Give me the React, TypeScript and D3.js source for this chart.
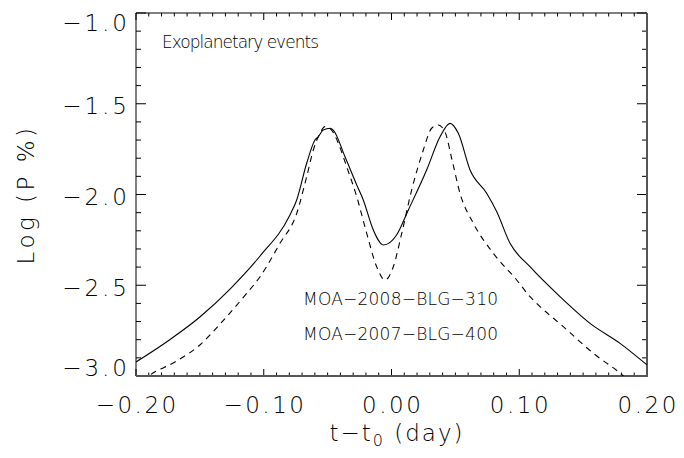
import React from 'react';
import * as d3 from 'd3';

const W = 684;
const H = 458;

// MOA-2008-BLG-310 (solid)
const solidT = [-0.2, -0.175, -0.15, -0.1264, -0.1029, -0.0795, -0.0742, -0.0664, -0.0599, -0.0573, -0.0534, -0.0481, -0.0456, -0.0364, -0.0272, -0.0221, -0.0142, -0.0064, 0.004, 0.0132, 0.0275, 0.038, 0.0458, 0.0523, 0.0615, 0.0745, 0.0824, 0.0928, 0.1084, 0.1319, 0.1554, 0.1789, 0.2];
const solidV = [-2.923, -2.807, -2.675, -2.521, -2.339, -2.113, -2.03, -1.828, -1.7, -1.682, -1.645, -1.635, -1.645, -1.792, -1.948, -2.03, -2.196, -2.278, -2.223, -2.085, -1.865, -1.682, -1.608, -1.663, -1.865, -1.993, -2.095, -2.269, -2.398, -2.563, -2.71, -2.82, -2.939];

// MOA-2007-BLG-400 (dashed)
const dashedT = [-0.195, -0.19, -0.1695, -0.15, -0.1327, -0.1133, -0.1029, -0.0873, -0.0742, -0.0664, -0.0612, -0.056, -0.0521, -0.0469, -0.0416, -0.0351, -0.0272, -0.0194, -0.0116, -0.0051, 0.0014, 0.008, 0.0158, 0.0249, 0.0314, 0.0366, 0.0419, 0.0474, 0.0536, 0.0641, 0.0797, 0.098, 0.1084, 0.1136, 0.1345, 0.158, 0.1815, 0.186];
const dashedV = [-3.03, -3.0, -2.923, -2.829, -2.702, -2.544, -2.453, -2.269, -2.104, -1.902, -1.755, -1.663, -1.626, -1.645, -1.718, -1.847, -2.012, -2.214, -2.398, -2.471, -2.398, -2.214, -1.975, -1.755, -1.635, -1.617, -1.656, -1.81, -1.993, -2.159, -2.324, -2.471, -2.563, -2.6, -2.728, -2.875, -3.0, -3.03];

const xTicks = [-0.2, -0.1, 0, 0.1, 0.2];
const xTickLabels = ['\u22120.20', '\u22120.10', '0.00', '0.10', '0.20'];
const yTicks = [-3, -2.5, -2, -1.5, -1];
const yTickLabels = ['\u22123.0', '\u22122.5', '\u22122.0', '\u22121.5', '\u22121.0'];
const xMinorStep = 0.01;
const yMinorStep = 0.1;

const FONT = "'DejaVu Sans', 'Noto Sans', sans-serif";

export default function App() {
  const L = 136, R = 647, T = 13, B = 376;
  const x = d3.scaleLinear().domain([-0.2, 0.2]).range([L, R]);
  const y = d3.scaleLinear().domain([-3, -1]).range([B, T]);

  const line = d3.line<[number, number]>()
    .x(d => x(d[0]))
    .y(d => y(d[1]))
    .curve(d3.curveMonotoneX);

  const solidPath = line(solidT.map((t, i) => [t, solidV[i]]) as [number, number][]) || '';
  const dashedPath = line(dashedT.map((t, i) => [t, dashedV[i]]) as [number, number][]) || '';

  const xMinor = d3.range(-0.2, 0.2 + 1e-9, xMinorStep);
  const yMinor = d3.range(-3, -1 + 1e-9, yMinorStep);
  const isMajorX = (v: number) => xTicks.some(t => Math.abs(t - v) < 1e-6);
  const isMajorY = (v: number) => yTicks.some(t => Math.abs(t - v) < 1e-6);

  const yLabelShift = (i: number) => (i === 0 ? -8 : i === yTicks.length - 1 ? 10 : 2);

  return (
    <svg width={W} height={H} style={{ position: 'absolute', left: 0, top: 0, background: '#fff' }}>
      <defs>
        <clipPath id="plot">
          <rect x={L} y={T} width={R - L} height={B - T} />
        </clipPath>
      </defs>
      <rect x={0} y={0} width={W} height={H} fill="#fff" />

      {xMinor.map((v, i) => {
        const len = isMajorX(v) ? 7 : 3.5;
        return (
          <g key={'xt' + i} stroke="#000" strokeWidth={1}>
            <line x1={x(v)} x2={x(v)} y1={B} y2={B - len} />
            <line x1={x(v)} x2={x(v)} y1={T} y2={T + len} />
          </g>
        );
      })}
      {yMinor.map((v, i) => {
        const len = isMajorY(v) ? 10 : 5;
        return (
          <g key={'yt' + i} stroke="#000" strokeWidth={1}>
            <line x1={L} x2={L + len} y1={y(v)} y2={y(v)} />
            <line x1={R} x2={R - len} y1={y(v)} y2={y(v)} />
          </g>
        );
      })}

      <line x1={L} x2={R} y1={T} y2={T} stroke="#000" strokeWidth={1} />
      <line x1={L} x2={L} y1={T} y2={B} stroke="#000" strokeWidth={1} />
      <line x1={L} x2={R + 1} y1={B} y2={B} stroke="#555" strokeWidth={2} />
      <line x1={R} x2={R} y1={T} y2={B} stroke="#555" strokeWidth={2} />

      <g clipPath="url(#plot)" fill="none" stroke="#000" strokeWidth={1.1}>
        <path d={solidPath} />
        <path d={dashedPath} strokeDasharray="6,5" />
      </g>

      {xTicks.map((v, i) => (
        <text key={'xl' + i} x={x(v) + 1.2} y={413} textAnchor="middle" fontFamily={FONT} fontWeight={200} fontSize={23} letterSpacing={2.5} fill="#000">
          {xTickLabels[i]}
        </text>
      ))}
      {yTicks.map((v, i) => (
        <text key={'yl' + i} x={130} y={y(v) + yLabelShift(i)} dy="0.36em" textAnchor="end" fontFamily={FONT} fontWeight={200} fontSize={23} letterSpacing={3} fill="#000">
          {yTickLabels[i]}
        </text>
      ))}

      <text x={397} y={441} textAnchor="middle" fontFamily={FONT} fontWeight={200} fontSize={23} letterSpacing={2} fill="#000">
        t{'\u2212'}t<tspan fontSize={16} dy={5}>0</tspan><tspan dy={-5}> (day)</tspan>
      </text>
      <text transform={`translate(34, ${(T + B) / 2}) rotate(-90)`} textAnchor="middle" fontFamily={FONT} fontWeight={200} fontSize={23} letterSpacing={3.5} fill="#000">
        Log (P %)
      </text>

      <text x={162} y={48} fontFamily={FONT} fontWeight={200} fontSize={17} textLength={157} lengthAdjust="spacing" fill="#000">
        Exoplanetary events
      </text>
      <text x={303} y={305} fontFamily={FONT} fontWeight={200} fontSize={17} textLength={195} lengthAdjust="spacing" fill="#000">
        MOA{'\u2212'}2008{'\u2212'}BLG{'\u2212'}310
      </text>
      <text x={303} y={340} fontFamily={FONT} fontWeight={200} fontSize={17} textLength={195} lengthAdjust="spacing" fill="#000">
        MOA{'\u2212'}2007{'\u2212'}BLG{'\u2212'}400
      </text>
    </svg>
  );
}
